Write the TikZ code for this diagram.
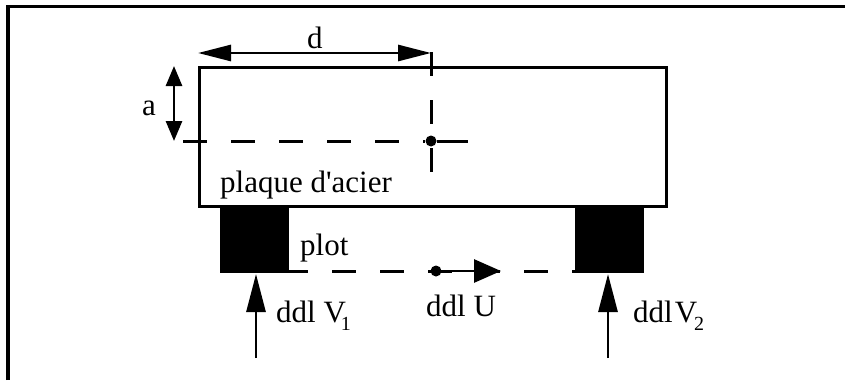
\documentclass[tikz,border=0pt]{standalone}
\usepackage{fontspec}
\setmainfont{Liberation Serif}
\usetikzlibrary{arrows.meta}
\newcommand{\ddlsub}[1]{\raisebox{-8pt}{\fontsize{20}{21}\selectfont #1}}
\tikzset{
    label text/.style={inner sep=0pt, anchor=base west, font=\fontsize{31}{33}\selectfont},
    dash line/.style={line width=3pt, dash pattern=on 24pt off 24pt},
    shaft/.style={line width=2.8pt},
    plot block/.style={fill=black, inner sep=0pt, minimum width=69pt, minimum height=68pt},
    point mark/.style={fill=black, circle, inner sep=0pt, minimum size=11pt},
}
\begin{document}
\begin{tikzpicture}[x=1pt,y=-1pt]
    \useasboundingbox (0,0) rectangle (845,380);
    % cadre
    \draw[line width=3.6pt] (8,380) -- (8,6.5) -- (845,6.5);

    % points de reference
    \node[point mark] (ptC) at (431,141) {};
    \node[point mark] (ptU) at (436,271) {};
    \coordinate (dL) at (198,53);
    \coordinate (dR) at (431,53);
    \coordinate (ptCtop) at (431,52);
    \coordinate (ptCbot) at (431,173);
    \coordinate (ptCleft) at (183,141);
    \coordinate (ptCright) at (468,141);
    \coordinate (aT) at (174,66);
    \coordinate (aB) at (174,141);
    \coordinate (uL) at (284,271);
    \coordinate (uR) at (575,271);
    \coordinate (uEnd) at (501,271);
    \coordinate (vA) at (256,358);
    \coordinate (vAend) at (256,274);
    \coordinate (vB) at (608,358);
    \coordinate (vBend) at (608,274);

    % ddl U
    \draw[dash line] (uL) -- (uR);

    % plaque et plots
    \node[draw, line width=3pt, minimum width=467pt, minimum height=139pt, inner sep=0pt] (plaque) at (432.5,136.5) {};
    \node[plot block] (plotA) at (254.5,239) {};
    \node[plot block] (plotB) at (609.5,239) {};

    % cotes
    \draw[shaft, {Triangle[length=33pt,width=16pt]}-{Triangle[length=33pt,width=16pt]}] (dL) -- (dR);
    \draw[shaft, {Triangle[length=20pt,width=16pt]}-{Triangle[length=20pt,width=16pt]}] (aT) -- (aB);
    \draw[dash line] (ptCtop) -- (ptCbot);
    \draw[dash line] (ptCleft) -- (ptC);
    \draw[dash line, dash pattern=] (ptC) -- (ptCright);

    % fleches
    \draw[shaft, -{Triangle[length=27pt,width=23pt]}] (ptU) -- (uEnd);
    \foreach \from/\to in {vA/vAend, vB/vBend}{
        \draw[shaft, -{Triangle[length=38pt,width=19pt]}] (\from) -- (\to);
    }

    % textes
    \node[label text] (dText) at (307,48) {d};
    \node[label text] (aText) at (142,115) {a};
    \node[label text] (plaqueText) at (220,192) {plaque d\textquotesingle acier};
    \node[label text] (plotText) at (300,255) {plot};
    \node[label text] (vAText) at (276,322) {ddl V\kern-5pt\ddlsub{1}};
    \node[label text] (uText) at (426,316) {ddl U};
    \node[label text] (vBText) at (633,322) {ddl\kern2pt V\kern-3pt\ddlsub{2}};
\end{tikzpicture}
\end{document}
